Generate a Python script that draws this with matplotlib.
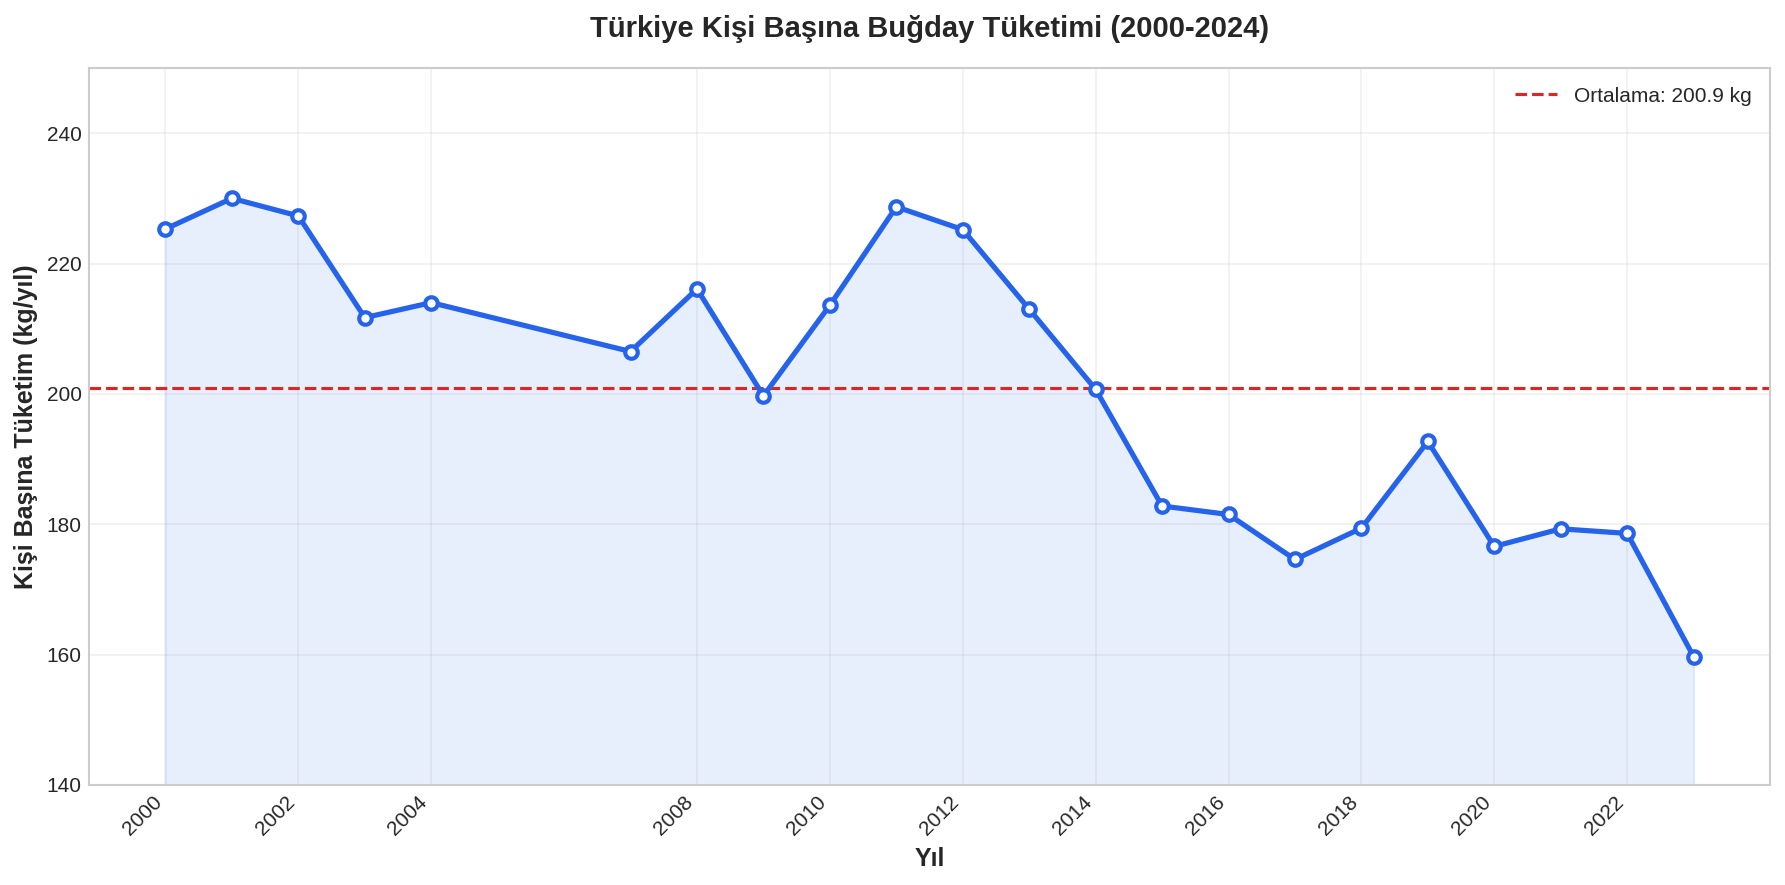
import matplotlib
matplotlib.use("Agg")
import matplotlib.pyplot as plt

plt.style.use("seaborn-v0_8-whitegrid")
plt.rcParams['font.family'] = ['Liberation Sans', 'DejaVu Sans']

years = [2000, 2001, 2002, 2003, 2004, 2007, 2008, 2009, 2010, 2011, 2012,
         2013, 2014, 2015, 2016, 2017, 2018, 2019, 2020, 2021, 2022, 2023]
consumption = [225.3, 230.0, 227.3, 211.7, 214.0, 206.5, 216.1, 199.7, 213.6,
               228.7, 225.2, 213.0, 200.7, 182.8, 181.5, 174.6, 179.4, 192.7,
               176.6, 179.3, 178.6, 159.7]
mean_value = 200.9
tick_years = years[::2]

title = "Türkiye Kişi Başına Buğday Tüketimi (2000-2024)"
xlabel = "Yıl"
ylabel = "Kişi Başına Tüketim (kg/yıl)"
mean_label = f"Ortalama: {mean_value:.1f} kg"

blue = "#2563EB"
red = "#DC2626"

fig, ax = plt.subplots(figsize=(11.9, 5.9), dpi=150)
fig.subplots_adjust(left=0.0499, right=0.9916, top=0.9232, bottom=0.113)

ax.plot(years, consumption, color=blue, linewidth=2.5, marker='o',
        markersize=6, markerfacecolor='white', markeredgecolor=blue,
        markeredgewidth=2, zorder=3)
ax.fill_between(years, consumption, 140, color=blue, alpha=0.1)
ax.axhline(mean_value, color=red, linestyle='--', linewidth=1.5,
           label=mean_label)

ax.set_ylim(140, 250)
ax.set_xticks(tick_years)
ax.set_xticklabels([str(y) for y in tick_years], rotation=45, ha='right')
ax.tick_params(labelsize=10)
ax.set_title(title, fontsize=14, fontweight='bold', pad=15)
ax.set_xlabel(xlabel, fontsize=12, fontweight='bold')
ax.set_ylabel(ylabel, fontsize=12, fontweight='bold')
ax.grid(True, alpha=0.3)
ax.legend(loc='upper right', fontsize=10)

fig.savefig("out.png", dpi=150)
